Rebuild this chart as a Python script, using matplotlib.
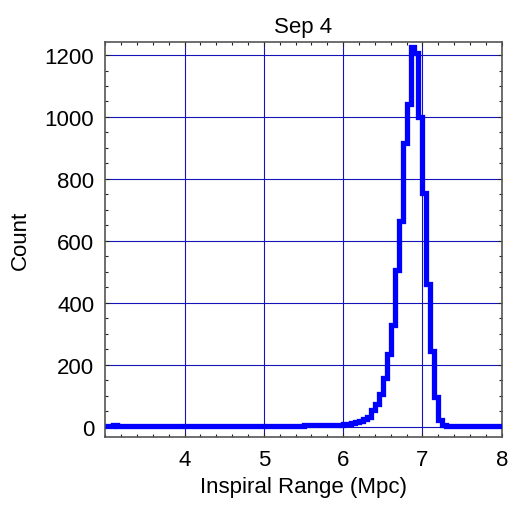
import numpy as np
import matplotlib.pyplot as plt
from matplotlib.ticker import MultipleLocator

plt.rcParams['font.family'] = ['Liberation Sans', 'DejaVu Sans']

# histogram bin edges (Mpc) and counts
bin_start = 3.0
bin_width = 0.05
counts = [
    # 3.00 - 3.95
    4, 4, 5, 4, 3, 3, 3, 2, 2, 3, 2, 2, 3, 3, 2, 2, 2, 2, 2, 2,
    # 4.00 - 4.95
    2, 2, 2, 2, 2, 1, 2, 2, 2, 2, 2, 1, 1, 2, 2, 2, 1, 2, 2, 2,
    # 5.00 - 5.95
    2, 2, 2, 3, 3, 2, 3, 3, 3, 3, 6, 6, 5, 5, 5, 5, 6, 6, 6, 7,
    # 6.00 - 6.95
    8, 10, 13, 15, 18, 24, 33, 55, 75, 107, 158, 236, 330, 506, 665, 915, 1042, 1225, 1208, 1000,
    # 7.00 - 7.95
    754, 460, 243, 97, 22, 5, 2, 2, 2, 2, 2, 2, 2, 2, 2, 2, 2, 2, 2, 2,
]
edges = bin_start + bin_width * np.arange(len(counts) + 1)

fig = plt.figure(figsize=(5.11, 5.06), dpi=100)
ax = fig.add_axes([0.2061, 0.135, 0.7757, 0.7806])

ax.stairs(counts, edges, color='#0000ff', linewidth=3.8, baseline=None, zorder=3)

ax.set_xlim(3, 8)
ax.set_ylim(-32, 1243)
ax.xaxis.set_major_locator(MultipleLocator(1))
ax.xaxis.set_minor_locator(MultipleLocator(0.2))
ax.yaxis.set_major_locator(MultipleLocator(200))
ax.yaxis.set_minor_locator(MultipleLocator(50))
ax.set_xticks([4, 5, 6, 7, 8])

ax.tick_params(which='both', direction='in', top=True, right=True, labelsize=16,
               color='#222222', width=0.8)
ax.tick_params(axis='y', which='major', length=3, pad=8)
ax.tick_params(axis='x', which='major', length=3, pad=9)
ax.tick_params(which='minor', length=2)
ax.grid(True, which='major', color='#1414b8', linewidth=0.8)
for s in ax.spines.values():
    s.set_color('#555555')
    s.set_linewidth(1.2)

ax.set_title('Sep 4', fontsize=16, pad=7)
ax.set_xlabel('Inspiral Range (Mpc)', fontsize=16, labelpad=4)
ax.set_ylabel('Count', fontsize=16, labelpad=10)

fig.savefig('out.png', dpi=100)
